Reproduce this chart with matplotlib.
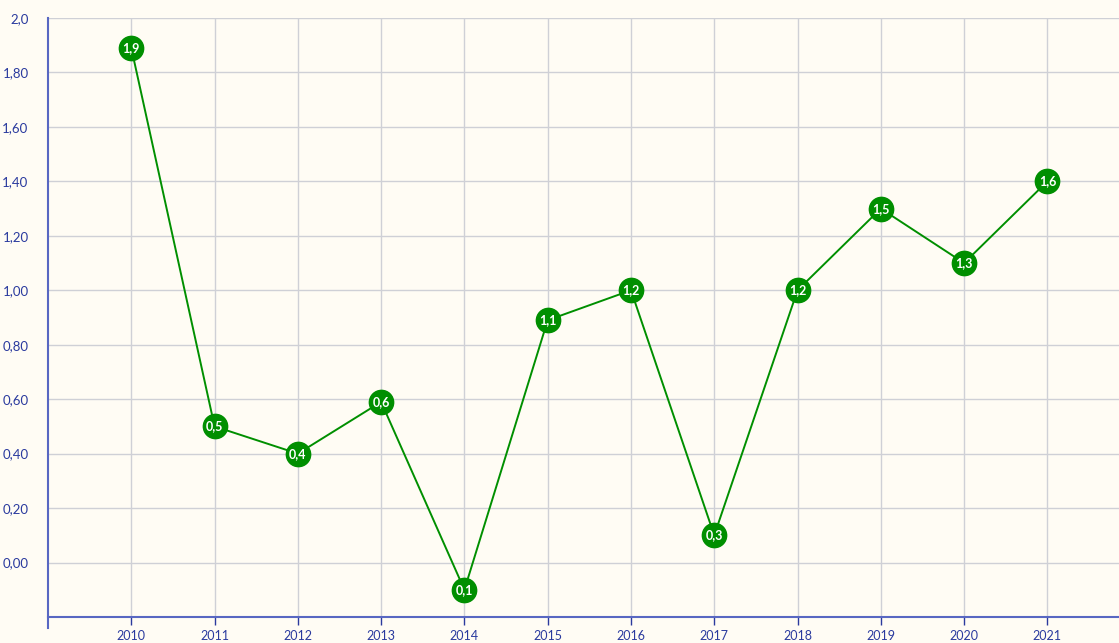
from matplotlib import pyplot as plt
import numpy as np

# datos
years = [2010, 2011, 2012, 2013, 2014, 2015, 2016, 2017, 2018, 2019, 2020, 2021]
values = [1.89, 0.5, 0.4, 0.59, -0.1, 0.89, 1.0, 0.1, 1.0, 1.3, 1.1, 1.4]
labels = ["1,9", "0,5", "0,4", "0,6", "0,1", "1,1", "1,2", "0,3", "1,2", "1,5", "1,3", "1,6"]
yticks = [0.0, 0.2, 0.4, 0.6, 0.8, 1.0, 1.2, 1.4, 1.6, 1.8, 2.0]
ytick_labels = ["0,00", "0,20", "0,40", "0,60", "0,80", "1,00", "1,20", "1,40", "1,60", "1,80", "2,0"]

bg = "#fffcf4"
green = "#008f00"
blue = "#2a3a9e"
spine = "#5867c2"

plt.rcParams['font.family'] = ['Lato', 'DejaVu Sans']

fig = plt.figure(figsize=(11.19, 6.43), dpi=100, facecolor=bg)
ax = fig.add_axes([48/1119, 1-617/643, 1-48/1119, (617-18)/643])
ax.set_facecolor(bg)

ax.plot(years, values, color=green, lw=1.4, marker="o", ms=17.5,
        mfc=green, mec=green, zorder=3)
for x, y, t in zip(years, values, labels):
    ax.text(x, y, t, color="white", fontsize=9, fontweight="bold",
            ha="center", va="center", zorder=4)

ax.set_xlim(2009.0, 2021.86)
ax.set_ylim(-0.2, 2.0)
ax.set_xticks(years)
ax.set_xticklabels([str(y) for y in years])
ax.set_yticks(yticks)
ax.set_yticklabels(ytick_labels)
ax.grid(True, color="#cfd0d6", lw=1)
ax.set_axisbelow(True)

for s in ["top", "right"]:
    ax.spines[s].set_visible(False)
ax.spines["left"].set_color(spine)
ax.spines["bottom"].set_color(spine)
ax.spines["left"].set_linewidth(1.5)
ax.spines["bottom"].set_linewidth(1.5)
ax.spines["left"].set_bounds(-0.24, 2.0)

ax.tick_params(axis="x", colors=blue, length=6, width=1, direction="out", labelsize=9, pad=3)
ax.tick_params(axis="y", colors=blue, length=0, labelsize=9.5, pad=14)

fig.savefig("out.png", dpi=100, facecolor=bg)
